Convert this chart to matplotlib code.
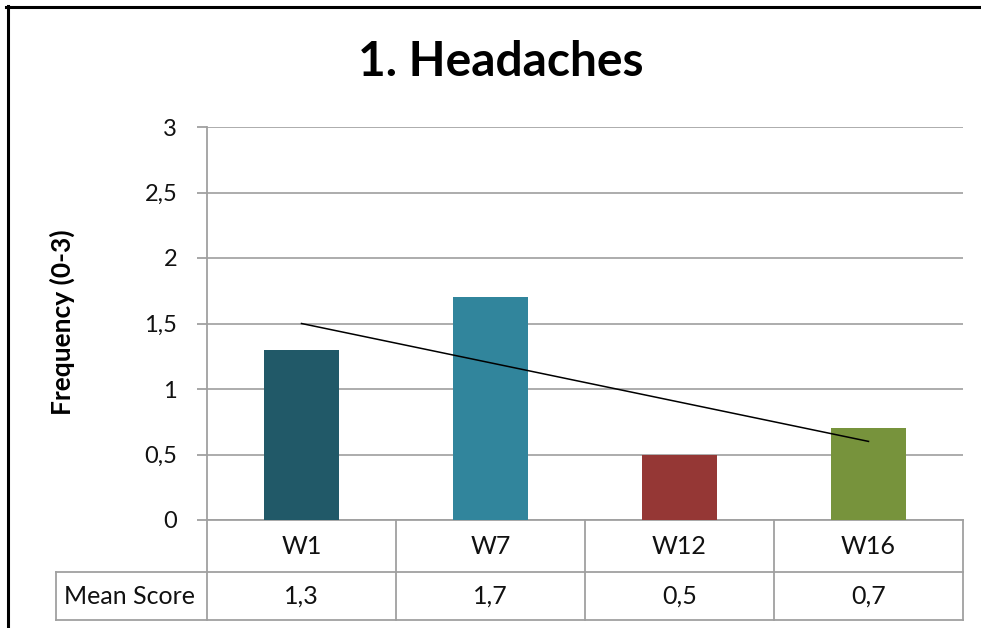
import numpy as np
import matplotlib
matplotlib.use('Agg')
import matplotlib.pyplot as plt
from matplotlib.lines import Line2D
from matplotlib.transforms import blended_transform_factory

categories = ['W1', 'W7', 'W12', 'W16']
mean_scores = [1.3, 1.7, 0.5, 0.7]
bar_colors = ['#215968', '#31859C', '#953735', '#77933C']
y_ticks = [0, 0.5, 1, 1.5, 2, 2.5, 3]
y_tick_labels = ['0', '0,5', '1', '1,5', '2', '2,5', '3']
table_row_label = 'Mean Score'
title = '1. Headaches'
y_label = 'Frequency (0-3)'

plt.rcParams['font.family'] = ['Lato', 'DejaVu Sans']
W, H = 981, 628
fig = plt.figure(figsize=(W / 100, H / 100), dpi=100)
fig.patch.set_facecolor('white')

ax_l, ax_r, ax_t, ax_b = 207, 963, 127, 520
ax = fig.add_axes([ax_l / W, (H - ax_b) / H, (ax_r - ax_l) / W, (ax_b - ax_t) / H])
x = np.arange(len(categories))
ax.bar(x, mean_scores, width=0.4, color=bar_colors, zorder=3)
coef = np.polyfit(x, mean_scores, 1)
ends = np.array([x[0], x[-1]])
ax.plot(ends, np.polyval(coef, ends), color='black', lw=1.1, zorder=4)

ax.set_xlim(-0.5, len(categories) - 0.5)
ax.set_ylim(0, 3)
ax.set_yticks(y_ticks, y_tick_labels)
ax.yaxis.grid(True, color='#a6a6a6', lw=1.3)
ax.set_axisbelow(True)
for s in ['top', 'right', 'bottom']:
    ax.spines[s].set_visible(False)
ax.spines['left'].set_color('#a0a0a0')
ax.spines['left'].set_linewidth(1.3)
ax.tick_params(axis='y', length=7.5, color='#a0a0a0', width=1.3, labelsize=17, pad=14, labelcolor='#111111')
ax.set_xticks([])

# data table under the axis
trans = blended_transform_factory(ax.transData, ax.transAxes)
ax_h = ax_b - ax_t
px_per_cat = (ax_r - ax_l) / len(categories)
r1 = (ax_b - 572) / ax_h
r2 = (ax_b - 620) / ax_h
x_left = -0.5 + (56 - ax_l) / px_per_cat
x_text = -0.5 + (64 - ax_l) / px_per_cat
lc = '#a0a0a0'
lw = 1.3
xr = len(categories) - 0.5
for yy, x0 in [(0, -0.5), (r1, x_left), (r2, x_left)]:
    ax.add_line(Line2D([x0, xr], [yy, yy], transform=trans, color=lc, lw=lw, clip_on=False))
for xb in np.arange(-0.5, len(categories), 1.0):
    ax.add_line(Line2D([xb, xb], [r2, 0], transform=trans, color=lc, lw=lw, clip_on=False))
ax.add_line(Line2D([x_left, x_left], [r2, r1], transform=trans, color=lc, lw=lw, clip_on=False))

for i, (c, v) in enumerate(zip(categories, mean_scores)):
    ax.text(i, r1 / 2, c, transform=trans, ha='center', va='center', fontsize=18, color='#111111')
    ax.text(i, (r1 + r2) / 2, f'{v:.1f}'.replace('.', ','), transform=trans,
            ha='center', va='center', fontsize=18, color='#111111')
ax.text(x_text, (r1 + r2) / 2, table_row_label, transform=trans, ha='left', va='center',
        fontsize=18, color='#111111')

# title and y label
fig.text(501 / W, (H - 76) / H, title, ha='center', va='baseline', fontsize=34.5, fontweight='bold')
fig.text(62 / W, (H - 322) / H, y_label, ha='center', va='center', rotation=90,
         fontsize=19, fontweight='bold')

# outer border (top and left visible)
fig.add_artist(Line2D([6 / W, 1.0], [(H - 7) / H] * 2, transform=fig.transFigure, color='black', lw=2.2))
fig.add_artist(Line2D([7.5 / W] * 2, [0, (H - 6) / H], transform=fig.transFigure, color='black', lw=2.2))

fig.savefig('out.png', dpi=100, facecolor='white')
